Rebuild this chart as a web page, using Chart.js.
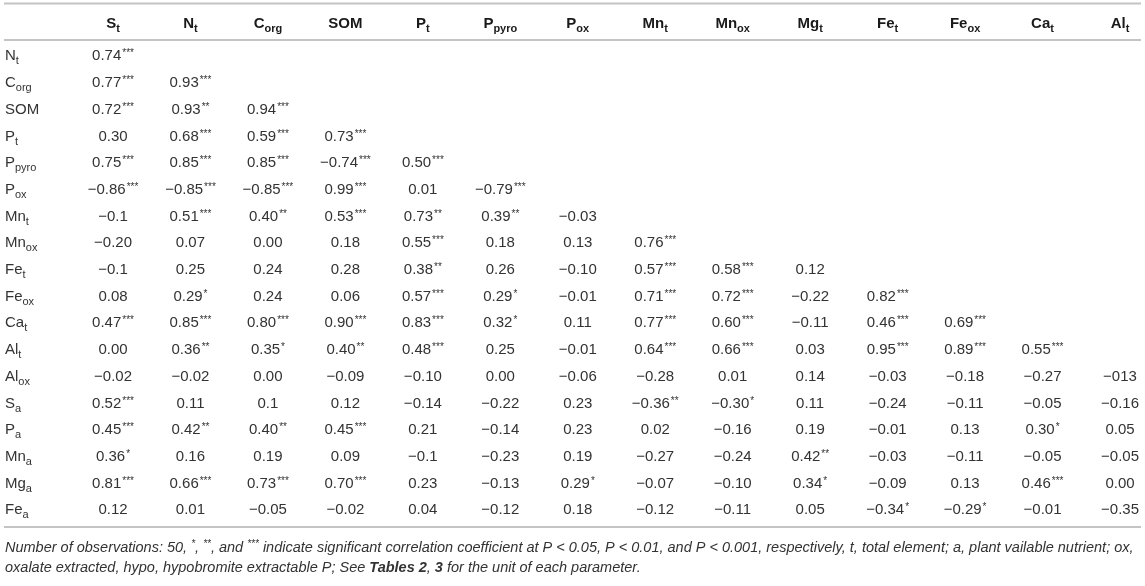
<!DOCTYPE html>
<html>
<head>
<meta charset="utf-8">
<script src="https://cdn.jsdelivr.net/npm/chart.js@4"></script>
<style>
  html, body { margin: 0; padding: 0; background: #fff; }
  #wrap { width: 1145px; height: 586px; position: relative; }
</style>
</head>
<body>
<div id="wrap"><canvas id="tbl"></canvas></div>
<script>
// column and row names, "_" starts the subscript
const colLabels = ['S_t', 'N_t', 'C_org', 'SOM', 'P_t', 'P_pyro', 'P_ox', 'Mn_t', 'Mn_ox', 'Mg_t', 'Fe_t', 'Fe_ox', 'Ca_t', 'Al_t'];
const rowLabels = ['N_t', 'C_org', 'SOM', 'P_t', 'P_pyro', 'P_ox', 'Mn_t', 'Mn_ox', 'Fe_t', 'Fe_ox', 'Ca_t', 'Al_t', 'Al_ox', 'S_a', 'P_a', 'Mn_a', 'Mg_a', 'Fe_a'];

// correlation coefficients as printed, one array per row (stars = significance)
const rNt    = ['0.74***'];
const rCorg  = ['0.77***', '0.93***'];
const rSOM   = ['0.72***', '0.93**', '0.94***'];
const rPt    = ['0.30', '0.68***', '0.59***', '0.73***'];
const rPpyro = ['0.75***', '0.85***', '0.85***', '−0.74***', '0.50***'];
const rPox   = ['−0.86***', '−0.85***', '−0.85***', '0.99***', '0.01', '−0.79***'];
const rMnt   = ['−0.1', '0.51***', '0.40**', '0.53***', '0.73**', '0.39**', '−0.03'];
const rMnox  = ['−0.20', '0.07', '0.00', '0.18', '0.55***', '0.18', '0.13', '0.76***'];
const rFet   = ['−0.1', '0.25', '0.24', '0.28', '0.38**', '0.26', '−0.10', '0.57***', '0.58***', '0.12'];
const rFeox  = ['0.08', '0.29*', '0.24', '0.06', '0.57***', '0.29*', '−0.01', '0.71***', '0.72***', '−0.22', '0.82***'];
const rCat   = ['0.47***', '0.85***', '0.80***', '0.90***', '0.83***', '0.32*', '0.11', '0.77***', '0.60***', '−0.11', '0.46***', '0.69***'];
const rAlt   = ['0.00', '0.36**', '0.35*', '0.40**', '0.48***', '0.25', '−0.01', '0.64***', '0.66***', '0.03', '0.95***', '0.89***', '0.55***'];
const rAlox  = ['−0.02', '−0.02', '0.00', '−0.09', '−0.10', '0.00', '−0.06', '−0.28', '0.01', '0.14', '−0.03', '−0.18', '−0.27', '−013'];
const rSa    = ['0.52***', '0.11', '0.1', '0.12', '−0.14', '−0.22', '0.23', '−0.36**', '−0.30*', '0.11', '−0.24', '−0.11', '−0.05', '−0.16'];
const rPa    = ['0.45***', '0.42**', '0.40**', '0.45***', '0.21', '−0.14', '0.23', '0.02', '−0.16', '0.19', '−0.01', '0.13', '0.30*', '0.05'];
const rMna   = ['0.36*', '0.16', '0.19', '0.09', '−0.1', '−0.23', '0.19', '−0.27', '−0.24', '0.42**', '−0.03', '−0.11', '−0.05', '−0.05'];
const rMga   = ['0.81***', '0.66***', '0.73***', '0.70***', '0.23', '−0.13', '0.29*', '−0.07', '−0.10', '0.34*', '−0.09', '0.13', '0.46***', '0.00'];
const rFea   = ['0.12', '0.01', '−0.05', '−0.02', '0.04', '−0.12', '0.18', '−0.12', '−0.11', '0.05', '−0.34*', '−0.29*', '−0.01', '−0.35'];

const rows = [rNt, rCorg, rSOM, rPt, rPpyro, rPox, rMnt, rMnox, rFet, rFeox, rCat, rAlt, rAlox, rSa, rPa, rMna, rMga, rFea];

const note1 = [
  ['Number of observations: 50, ', 'i'], ['*', 's'], [', ', 'i'], ['**', 's'], [', and ', 'i'], ['***', 's'],
  [' indicate significant correlation coefficient at P < 0.05, P < 0.01, and P < 0.001, respectively, t, total element; a, plant vailable nutrient; ox,', 'i']
];
const note2 = [
  ['oxalate extracted, hypo, hypobromite extractable P; See ', 'i'], ['Tables 2', 'b'], [', ', 'i'], ['3', 'b'],
  [' for the unit of each parameter.', 'i']
];

const FONT = '"Liberation Sans", Arial, Helvetica, sans-serif';
const FS = 15;

const points = [];
rows.forEach((r, ri) => {
  r.forEach((txt, ci) => {
    points.push({ x: colLabels[ci], y: rowLabels[ri], txt: txt });
  });
});

function drawName(ctx, label, x, y, bold, align) {
  const parts = label.split('_');
  const w = bold ? 'bold ' : '';
  const subSize = Math.round(FS * 0.76);
  ctx.font = w + FS + 'px ' + FONT;
  const wb = ctx.measureText(parts[0]).width;
  let ws = 0;
  if (parts[1]) {
    ctx.font = w + subSize + 'px ' + FONT;
    ws = ctx.measureText(parts[1]).width;
  }
  const x0 = align === 'center' ? x - (wb + ws) / 2 : x;
  const base = y + FS * 0.36;
  ctx.font = w + FS + 'px ' + FONT;
  ctx.fillText(parts[0], x0, base);
  if (parts[1]) {
    ctx.font = w + subSize + 'px ' + FONT;
    ctx.fillText(parts[1], x0 + wb, base + 4);
  }
}

function drawValue(ctx, txt, x, y) {
  const m = txt.match(/^([^*]*)(\**)$/);
  ctx.font = FS + 'px ' + FONT;
  const wn = ctx.measureText(m[1]).width;
  ctx.font = '10px ' + FONT;
  const wst = m[2] ? ctx.measureText(m[2]).width + 1 : 0;
  const x0 = x - (wn + wst) / 2;
  const base = y + FS * 0.36;
  ctx.font = FS + 'px ' + FONT;
  ctx.fillText(m[1], x0, base);
  if (m[2]) {
    ctx.font = '10px ' + FONT;
    ctx.fillText(m[2], x0 + wn + 1, base - 4);
  }
}

function drawNote(ctx, parts, x, y) {
  let cx = x;
  parts.forEach(([t, kind]) => {
    if (kind === 's') {
      ctx.font = 'italic 10px ' + FONT;
      ctx.fillText(t, cx, y - 5);
    } else {
      ctx.font = (kind === 'b' ? 'italic bold ' : 'italic ') + '14.5px ' + FONT;
      ctx.fillText(t, cx, y);
    }
    cx += ctx.measureText(t).width;
  });
}

const tablePlugin = {
  id: 'tableText',
  afterDatasetsDraw(chart) {
    const ctx = chart.ctx;
    const xs = chart.scales.x, ys = chart.scales.y;
    const yFirst = ys.getPixelForValue(0);
    const yLast = ys.getPixelForValue(rowLabels.length - 1);
    const step = ys.getPixelForValue(1) - yFirst;
    const yHead = yFirst - step * 1.22;
    ctx.save();
    ctx.textAlign = 'left';
    ctx.textBaseline = 'alphabetic';

    // rules
    ctx.strokeStyle = '#c4c4c4';
    ctx.lineWidth = 2;
    [yHead - 19, yFirst - 15, yLast + 18].forEach(yy => {
      ctx.beginPath();
      ctx.moveTo(4, yy);
      ctx.lineTo(chart.width - 4, yy);
      ctx.stroke();
    });

    // header
    ctx.fillStyle = '#1a1a1a';
    colLabels.forEach((c, i) => drawName(ctx, c, xs.getPixelForValue(i), yHead, true, 'center'));

    // row names
    ctx.fillStyle = '#333';
    rowLabels.forEach((r, i) => drawName(ctx, r, 5, ys.getPixelForValue(i), false, 'left'));

    // cells
    const meta = chart.getDatasetMeta(0);
    meta.data.forEach((el, i) => drawValue(ctx, points[i].txt, el.x, el.y));

    // footnote
    ctx.fillStyle = '#333';
    drawNote(ctx, note1, 5, yLast + 43);
    drawNote(ctx, note2, 5, yLast + 63);
    ctx.restore();
  }
};

new Chart(document.getElementById('tbl'), {
  type: 'scatter',
  data: {
    datasets: [{
      data: points,
      pointRadius: 0,
      pointHoverRadius: 0
    }]
  },
  options: {
    responsive: true,
    maintainAspectRatio: false,
    animation: false,
    events: [],
    layout: { padding: { top: 55, bottom: 69, left: 105, right: 25 } },
    plugins: { legend: { display: false }, tooltip: { enabled: false } },
    scales: {
      x: {
        type: 'category',
        labels: colLabels,
        offset: false,
        ticks: { display: false },
        grid: { display: false },
        border: { display: false }
      },
      y: {
        type: 'category',
        labels: rowLabels,
        offset: false,
        ticks: { display: false },
        grid: { display: false },
        border: { display: false }
      }
    }
  },
  plugins: [tablePlugin]
});
</script>
</body>
</html>
